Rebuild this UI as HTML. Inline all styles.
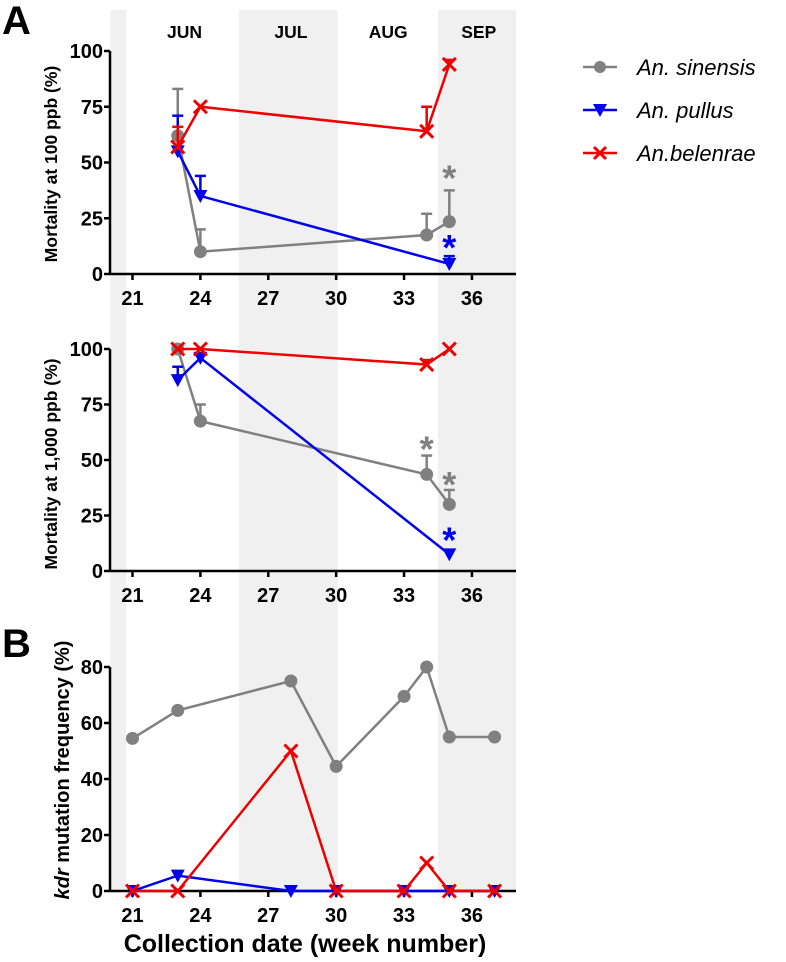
<!DOCTYPE html>
<html><head><meta charset="utf-8"><style>
html,body{margin:0;padding:0;background:#fff;}
svg{display:block;font-family:"Liberation Sans",Arial,sans-serif;}
</style></head><body>
<svg id="fig" width="786" height="962" viewBox="0 0 786 962" xmlns="http://www.w3.org/2000/svg"></svg>
<script>
// ---- data ----
const weeksA = [23, 24, 34, 35];
const sin100 = [62, 10, 17.5, 23.5];
const sin100Err = [83, 20, 27, 37.5];
const pulWeeks100 = [23, 24, 35];
const pul100 = [55, 35, 4.5];
const pul100Err = [71, 44, 8];
const bel100 = [57, 75, 64, 94];
const bel100Err = [66, 75, 75, 96];
const sin1000 = [100, 67.5, 43.5, 30];
const sin1000Err = [100, 75, 52, 36.5];
const pul1000 = [86, 96, 7.5];
const pul1000Err = [92, 96, 7.5];
const bel1000 = [100, 100, 93, 100];
const bel1000Err = [100, 100, 95, 100];
const weeksB = [21, 23, 28, 30, 33, 34, 35, 37];
const sinKdr = [54.5, 64.5, 75, 44.5, 69.5, 80, 55, 55];
const pulWeeksB = [21, 23, 28, 30, 33, 35, 37];
const pulKdr = [0, 5.5, 0, 0, 0, 0, 0];
const belKdr = [0, 0, 50, 0, 0, 10, 0, 0];
const xTicks = [21, 24, 27, 30, 33, 36];
const yTicksA = [0, 25, 50, 75, 100];
const yTicksB = [0, 20, 40, 60, 80];
const months = ["JUN", "JUL", "AUG", "SEP"];
const monthWeeks = [23.3, 28, 32.3, 36.3];
const bands = [[20.03, 20.73], [25.7, 30.07], [34.5, 38.0]];

const NS = "http://www.w3.org/2000/svg";
const svg = document.getElementById("fig");
function el(tag, attrs, parent) {
  const e = document.createElementNS(NS, tag);
  for (const k in attrs) e.setAttribute(k, attrs[k]);
  (parent || svg).appendChild(e);
  return e;
}
const X0 = 110, X1 = 516;
const xS = w => 132.5 + (w - 21) * 22.63;
const colors = {sin: "#808080", pul: "#0000ee", bel: "#ee0000"};

bands.forEach(b => {
  const r = el("rect", {x: xS(b[0]), y: 10, width: Math.min(xS(b[1]), X1) - xS(b[0]), height: 881, fill: "#f0f0f0"});
  
  
});
months.forEach((m, i) => {
  const t = el("text", {x: xS(monthWeeks[i]), y: 38, "text-anchor": "middle", "font-size": 17.5, "font-weight": "bold"});
  t.textContent = m;
  
  
});

function marker(g, type, x, y, c) {
  if (type === "sin") el("circle", {cx: x, cy: y, r: 6.5, fill: c}, g);
  else if (type === "pul") el("path", {d: `M${x-7},${y-6} L${x+7},${y-6} L${x},${y+7} Z`, fill: c}, g);
  else el("path", {d: `M${x-6.5},${y-6.5} L${x+6.5},${y+6.5} M${x+6.5},${y-6.5} L${x-6.5},${y+6.5}`, stroke: c, "stroke-width": 3}, g);
}

function panel(name, y0, y100, ymax, yTicks, series) {
  const yS = v => y0 - v * (y0 - y100) / ymax;
  const g = el("g", {});
  
  
  el("line", {x1: X0, y1: y0, x2: X1, y2: y0, stroke: "#000", "stroke-width": 2.5}, g);
  el("line", {x1: X0, y1: yS(ymax), x2: X0, y2: y0, stroke: "#000", "stroke-width": 2.5}, g);
  yTicks.forEach(v => {
    el("line", {x1: X0 - 6, y1: yS(v), x2: X0, y2: yS(v), stroke: "#000", "stroke-width": 2.5}, g);
    const t = el("text", {x: X0 - 7, y: yS(v) + 7, "text-anchor": "end", "font-size": 20, "font-weight": "bold"}, g);
    t.textContent = v;
    
    
  });
  xTicks.forEach(w => {
    el("line", {x1: xS(w), y1: y0, x2: xS(w), y2: y0 + 6, stroke: "#000", "stroke-width": 2.5}, g);
    const t = el("text", {x: xS(w), y: y0 + 31, "text-anchor": "middle", "font-size": 20, "font-weight": "bold"}, g);
    t.textContent = w;
    
    
  });
  series.forEach(s => {
    const sg = el("g", {}, g);
    
    
    const c = colors[s.type];
    if (s.err) s.err.forEach((e, i) => {
      if (e > s.vals[i] + 0.5) {
        const x = xS(s.weeks[i]);
        el("line", {x1: x, y1: yS(s.vals[i]), x2: x, y2: yS(e), stroke: c, "stroke-width": 2.5}, sg);
        el("line", {x1: x - 5.5, y1: yS(e), x2: x + 5.5, y2: yS(e), stroke: c, "stroke-width": 2.5}, sg);
      }
    });
    el("polyline", {points: s.weeks.map((w, i) => xS(w) + "," + yS(s.vals[i])).join(" "), fill: "none", stroke: c, "stroke-width": 2.5}, sg);
    s.weeks.forEach((w, i) => marker(sg, s.type, xS(w), yS(s.vals[i]), c));
    (s.stars || []).forEach(st => {
      const t = el("text", {x: xS(st[0]), y: yS(st[1]) + 17, "text-anchor": "middle", "font-size": 36, "font-weight": "bold", fill: c}, sg);
      t.textContent = "*";
      
      
    });
  });
  return yS;
}

panel("panel-a-100ppb", 274, 51, 100, yTicksA, [
  {type: "sin", weeks: weeksA, vals: sin100, err: sin100Err, stars: [[35, 45]]},
  {type: "pul", weeks: pulWeeks100, vals: pul100, err: pul100Err, stars: [[35, 14]]},
  {type: "bel", weeks: weeksA, vals: bel100, err: bel100Err}
]);
panel("panel-a-1000ppb", 571, 349, 100, yTicksA, [
  {type: "sin", weeks: weeksA, vals: sin1000, err: sin1000Err, stars: [[34, 57], [35, 41]]},
  {type: "pul", weeks: pulWeeks100, vals: pul1000, err: pul1000Err, stars: [[35, 16]]},
  {type: "bel", weeks: weeksA, vals: bel1000, err: bel1000Err}
]);
panel("panel-b-kdr", 891, 667, 80, yTicksB, [
  {type: "sin", weeks: weeksB, vals: sinKdr},
  {type: "pul", weeks: pulWeeksB, vals: pulKdr},
  {type: "bel", weeks: weeksB, vals: belKdr}
]);
</script>
<svg style="position:absolute;left:0;top:0" width="786" height="962" font-family="Liberation Sans, Arial, sans-serif">
  <text x="2" y="34" font-size="40" font-weight="bold">A</text>
  <text x="2" y="657" font-size="40" font-weight="bold">B</text>
  <text transform="translate(57,164) rotate(-90)" text-anchor="middle" font-size="17.5" font-weight="bold">Mortality at 100 ppb (%)</text>
  <text transform="translate(57,464) rotate(-90)" text-anchor="middle" font-size="17.5" font-weight="bold">Mortality at 1,000 ppb (%)</text>
  <text transform="translate(69,770) rotate(-90)" text-anchor="middle" font-size="20" font-weight="bold"><tspan font-style="italic">kdr</tspan> mutation frequency (%)</text>
  <text x="305" y="952" text-anchor="middle" font-size="25" font-weight="bold">Collection date (week number)</text>
  <g>
    <g>
      <line x1="583" y1="67" x2="617" y2="67" stroke="#808080" stroke-width="2.5"/>
      <circle cx="600" cy="67" r="6" fill="#808080"/>
      <text x="637" y="75" font-size="22" font-style="italic">An. sinensis</text>
    </g>
    <g>
      <line x1="583" y1="110" x2="617" y2="110" stroke="#0000ee" stroke-width="2.5"/>
      <path d="M593,104 L607,104 L600,117 Z" fill="#0000ee"/>
      <text x="637" y="118" font-size="22" font-style="italic">An. pullus</text>
    </g>
    <g>
      <line x1="583" y1="153" x2="617" y2="153" stroke="#ee0000" stroke-width="2.5"/>
      <path d="M594,147 L606,159 M606,147 L594,159" stroke="#ee0000" stroke-width="3"/>
      <text x="637" y="161" font-size="22" font-style="italic">An.belenrae</text>
    </g>
  </g>
</svg>
</body></html>
